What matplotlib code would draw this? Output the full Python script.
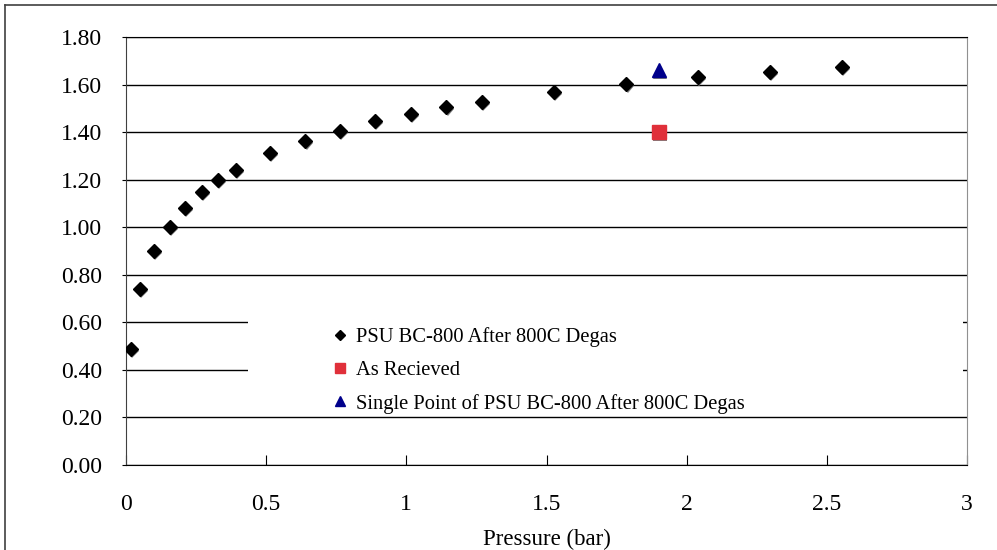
import matplotlib
matplotlib.use("Agg")
import matplotlib.pyplot as plt
import matplotlib.patheffects as pe
from matplotlib.patches import Rectangle
from matplotlib.lines import Line2D
from matplotlib.ticker import FormatStrFormatter, FuncFormatter

# data
pressure = [0.018, 0.05, 0.10, 0.157, 0.21, 0.271, 0.328, 0.392, 0.514, 0.639,
            0.763, 0.888, 1.017, 1.142, 1.27, 1.527, 1.784, 2.04, 2.297, 2.554]
uptake = [0.488, 0.740, 0.90, 1.00, 1.08, 1.148, 1.198, 1.24, 1.312, 1.362,
          1.405, 1.447, 1.476, 1.505, 1.526, 1.568, 1.602, 1.632, 1.653, 1.674]
recv_x = [1.90]
recv_y = [1.40]
single_x = [1.90]
single_y = [1.66]

labels = ["PSU BC-800 After 800C Degas", "As Recieved",
          "Single Point of PSU BC-800 After 800C Degas"]

plt.rcParams['font.family'] = ['Liberation Serif', 'DejaVu Serif']

fig = plt.figure(figsize=(9.97, 5.5), dpi=100)
ax = fig.add_axes([126/997, 1 - 465/550, (967 - 126)/997, (465 - 37)/550])

shadow = [pe.SimplePatchShadow(offset=(1, -1.5), shadow_rgbFace='#808080', alpha=1.0), pe.Normal()]

h1, = ax.plot(pressure, uptake, 'D', color='black', markersize=7, zorder=5,
              path_effects=shadow, label=labels[0])
h2, = ax.plot(recv_x, recv_y, 's', color='#e0303a', markersize=10, zorder=5,
              path_effects=shadow, label=labels[1])
h3, = ax.plot(single_x, single_y, '^', color='#00008b', markersize=10, zorder=5,
              path_effects=shadow, label=labels[2])

ax.set_xlim(0, 3)
ax.set_ylim(0, 1.8)
ax.set_yticks([0, 0.2, 0.4, 0.6, 0.8, 1.0, 1.2, 1.4, 1.6, 1.8])
ax.set_xticks([0, 0.5, 1, 1.5, 2, 2.5, 3])
ax.yaxis.set_major_formatter(FormatStrFormatter('%.2f'))
ax.xaxis.set_major_formatter(FuncFormatter(lambda v, p: '%g' % v))

ax.set_axisbelow(True)
ax.yaxis.grid(True, color='black', linewidth=1)
ax.tick_params(axis='y', direction='out', length=3, labelsize=17, pad=14)
ax.tick_params(axis='x', direction='in', length=7, labelsize=17, pad=21)
ax.spines['top'].set_color('black')
ax.spines['left'].set_color('#404040')
ax.spines['right'].set_color('#909090')
ax.spines['bottom'].set_color('black')

ax.set_xlabel('Pressure (bar)', fontsize=16.5, labelpad=10)

# white legend background that hides the gridlines behind it
ax.add_patch(Rectangle((0.145, 0.124), 0.85, 0.262, transform=ax.transAxes,
                       facecolor='white', edgecolor='none', zorder=1.5))

leg = ax.legend(handles=[h1, h2, h3], loc='upper left', bbox_to_anchor=(0.245, 0.322),
                frameon=False, fontsize=14.8, handlelength=0.8, handletextpad=0.35,
                labelspacing=0.66, markerscale=0.75, borderpad=0, borderaxespad=0)
for h in leg.legend_handles:
    h.set_path_effects([])

# figure border (left and top edges visible)
fig.add_artist(Line2D([5/997, 5/997], [0, 1 - 5/550], color='#404040', linewidth=1.2))
fig.add_artist(Line2D([5/997, 1], [1 - 5/550, 1 - 5/550], color='#404040', linewidth=1.2))

fig.savefig('out.png', dpi=100)
